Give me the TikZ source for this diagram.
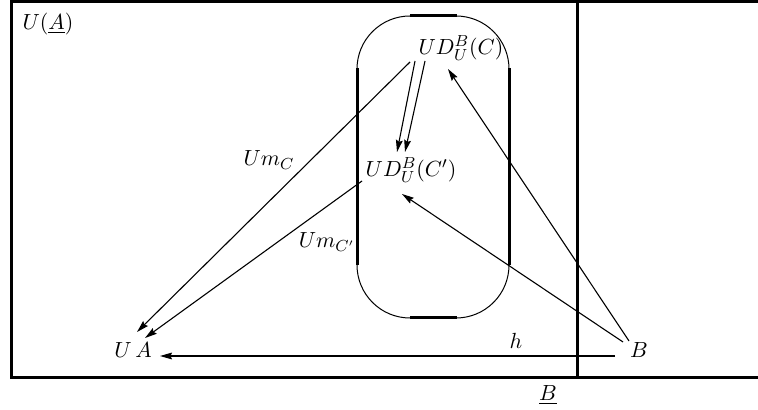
\documentclass[tikz,border=0pt]{standalone}
\usetikzlibrary{arrows.meta}
\begin{document}
\begin{tikzpicture}[x=0.5pt,y=-0.5pt,
  frame/.style={line width=1.5pt},
  thinline/.style={line width=0.5pt},
  arr/.style={line width=0.55pt,-{Stealth[length=6pt,width=3.4pt,inset=0.8pt]}},
  lbl/.style={inner sep=0pt,font=\fontsize{11}{13}\selectfont}]
\useasboundingbox (0,0) rectangle (758,410);
% frame
\draw[frame] (11,1.5) -- (758,1.5);
\draw[frame] (11,0) -- (11,377.5) -- (758,377.5);
\draw[frame] (577,0) -- (577,377.5);
% stadium
\draw[thinline,rounded corners=26.5pt] (357,16) rectangle (509,318);
\draw[frame] (357,68) -- (357,265);
\draw[frame] (509,68) -- (509,265);
\draw[frame] (410,16) -- (457,16);
\draw[frame] (410,318) -- (457,318);
% nodes
\node[lbl] (ua0) at (48,24) {$U(\underline{A})$};
\node[lbl] (udc) at (461,48) {$UD^B_U(C)$};
\node[lbl] (udcp) at (411,170) {$UD^B_U(C')$};
\node[lbl] (ua) at (133,350) {$U\,A$};
\node[lbl] (b) at (639,350) {$B$};
\node[lbl] (ub) at (548,395) {$\underline{B}$};
\node[lbl] (h) at (516,341) {$h$};
\node[lbl] (umc) at (269,160) {$Um_C$};
\node[lbl] (umcp) at (327,242) {$Um_{C'}$};
% arrows
\draw[arr] ([shift={(-51,14)}]udc.center) -- ([shift={(4,-18)}]ua.center);
\draw[arr] ([shift={(-49,11)}]udcp.center) -- ([shift={(12,-12)}]ua.center);
\draw[arr] ([shift={(-46,13)}]udc.center) -- ([shift={(-14,-18)}]udcp.center);
\draw[arr] ([shift={(-36,13)}]udc.center) -- ([shift={(-6,-18)}]udcp.center);
\draw[arr] ([shift={(-10,-9)}]b.center) -- ([shift={(-13,21)}]udc.center);
\draw[arr] ([shift={(-16,-8)}]b.center) -- ([shift={(-9,24)}]udcp.center);
\draw[arr] ([shift={(-24,6)}]b.center) -- ([shift={(27,6)}]ua.center);
\end{tikzpicture}
\end{document}
